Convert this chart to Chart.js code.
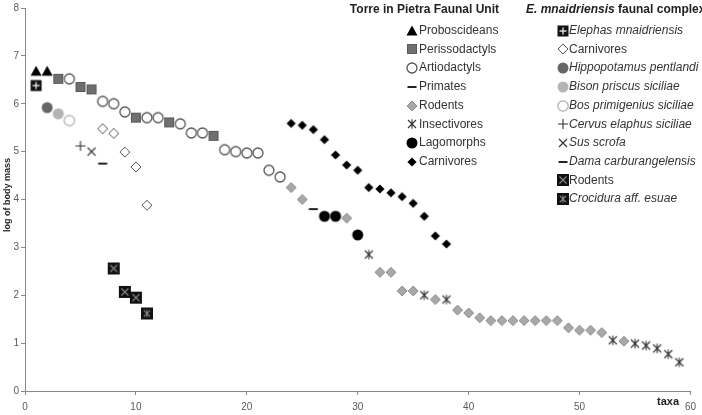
<!DOCTYPE html>
<html>
<head>
<meta charset="utf-8">
<script src="https://cdn.jsdelivr.net/npm/chart.js@4.4.1/dist/chart.umd.min.js"></script>
<style>
  html, body { margin: 0; padding: 0; background: #fff; }
  #wrap { width: 702px; height: 415px; position: relative; }
</style>
</head>
<body>
<div id="wrap"><canvas id="chart" width="702" height="415"></canvas></div>
<script>
// Torre in Pietra Faunal Unit
var proboscideansX = [1, 2];
var proboscideansY = [6.68, 6.68];
var perissodactylsX = [3, 5, 6, 10, 13, 17];
var perissodactylsY = [6.52, 6.35, 6.30, 5.71, 5.61, 5.33];
var artiodactylsX = [4, 7, 8, 9, 11, 12, 14, 15, 16, 18, 19, 20, 21, 22, 23];
var artiodactylsY = [6.52, 6.05, 6.0, 5.83, 5.71, 5.71, 5.58, 5.39, 5.39, 5.04, 5.0, 4.97, 4.97, 4.61, 4.47];
var primatesX = [26];
var primatesY = [3.80];
var rodentsX = [24, 25, 29, 32, 33, 34, 35, 37, 39, 40, 41, 42, 43, 44, 45, 46, 47, 48, 49, 50, 51, 52, 54];
var rodentsY = [4.25, 4.0, 3.61, 2.48, 2.48, 2.09, 2.09, 1.91, 1.69, 1.63, 1.53, 1.47, 1.47, 1.47, 1.47, 1.47, 1.47, 1.47, 1.32, 1.27, 1.27, 1.22, 1.04];
var insectivoresX = [31, 36, 38, 53, 55, 56, 57, 58, 59];
var insectivoresY = [2.85, 2.0, 1.91, 1.06, 0.99, 0.95, 0.89, 0.77, 0.60];
var lagomorphsX = [27, 28, 30];
var lagomorphsY = [3.65, 3.65, 3.26];
var carnivoresX = [24, 25, 26, 27, 28, 29, 30, 31, 32, 33, 34, 35, 36, 37, 38];
var carnivoresY = [5.59, 5.55, 5.46, 5.25, 4.93, 4.72, 4.61, 4.25, 4.22, 4.14, 4.06, 3.92, 3.65, 3.24, 3.07];

// E. mnaidriensis faunal complex
var elephasX = [1];
var elephasY = [6.38];
var emCarnivoresX = [7, 8, 9, 10, 11];
var emCarnivoresY = [5.48, 5.38, 4.99, 4.68, 3.88];
var hippoX = [2];
var hippoY = [5.92];
var bisonX = [3];
var bisonY = [5.79];
var bosX = [4];
var bosY = [5.65];
var cervusX = [5];
var cervusY = [5.12];
var susX = [6];
var susY = [5.0];
var damaX = [7];
var damaY = [4.75];
var emRodentsX = [8, 9, 10];
var emRodentsY = [2.56, 2.07, 1.95];
var crociduraX = [11];
var crociduraY = [1.62];

var xTicks = [0, 10, 20, 30, 40, 50, 60];
var yTicks = [0, 1, 2, 3, 4, 5, 6, 7, 8];

// marker images
function marker(size, draw) {
  var c = document.createElement("canvas");
  c.width = size;
  c.height = size;
  var ctx = c.getContext("2d");
  draw(ctx, size / 2);
  return c;
}
function star6(ctx, c, a, color, lw) {
  ctx.strokeStyle = color;
  ctx.lineWidth = lw;
  ctx.beginPath();
  ctx.moveTo(c - a, c - a); ctx.lineTo(c + a, c + a);
  ctx.moveTo(c + a, c - a); ctx.lineTo(c - a, c + a);
  ctx.moveTo(c, c - a * 1.2); ctx.lineTo(c, c + a * 1.2);
  ctx.stroke();
}
function diamond(ctx, c, r, fill, stroke) {
  ctx.beginPath();
  ctx.moveTo(c, c - r); ctx.lineTo(c + r, c); ctx.lineTo(c, c + r); ctx.lineTo(c - r, c);
  ctx.closePath();
  ctx.fillStyle = fill; ctx.fill();
  if (stroke) { ctx.strokeStyle = stroke; ctx.lineWidth = 1; ctx.stroke(); }
}
function circle(ctx, c, r, fill, stroke, lw) {
  ctx.beginPath();
  ctx.arc(c, c, r, 0, Math.PI * 2);
  ctx.fillStyle = fill; ctx.fill();
  if (stroke) { ctx.strokeStyle = stroke; ctx.lineWidth = lw || 1; ctx.stroke(); }
}

var m = {
  triangle: marker(14, function (ctx, c) {
    ctx.beginPath();
    ctx.moveTo(c, c - 5.5); ctx.lineTo(c + 5.5, c + 4.5); ctx.lineTo(c - 5.5, c + 4.5);
    ctx.closePath(); ctx.fillStyle = "#000"; ctx.fill();
  }),
  graySquare: marker(14, function (ctx, c) {
    ctx.fillStyle = "#6f6f6f"; ctx.fillRect(c - 5, c - 5, 10, 10);
    ctx.strokeStyle = "#5a5a5a"; ctx.lineWidth = 1; ctx.strokeRect(c - 4.5, c - 4.5, 9, 9);
  }),
  openCircle: marker(14, function (ctx, c) { circle(ctx, c, 5, "#fff", "#555", 1.3); }),
  dash: marker(14, function (ctx, c) { ctx.fillStyle = "#222"; ctx.fillRect(c - 4.5, c - 1, 9, 2); }),
  grayDiamond: marker(14, function (ctx, c) { diamond(ctx, c, 5, "#a8a8a8", "#8e8e8e"); }),
  star: marker(14, function (ctx, c) { star6(ctx, c, 4, "#333", 1.1); }),
  blackCircle: marker(14, function (ctx, c) { circle(ctx, c, 5.5, "#000"); }),
  blackDiamond: marker(14, function (ctx, c) { diamond(ctx, c, 4.6, "#000"); }),
  elephas: marker(14, function (ctx, c) {
    ctx.fillStyle = "#111"; ctx.fillRect(c - 5.5, c - 5.5, 11, 11);
    ctx.strokeStyle = "#ddd"; ctx.lineWidth = 1.4;
    ctx.beginPath(); ctx.moveTo(c - 3.5, c); ctx.lineTo(c + 3.5, c);
    ctx.moveTo(c, c - 3.5); ctx.lineTo(c, c + 3.5); ctx.stroke();
  }),
  openDiamond: marker(14, function (ctx, c) { diamond(ctx, c, 5, "#fff", "#555"); }),
  hippo: marker(14, function (ctx, c) { circle(ctx, c, 5.5, "#666"); }),
  bison: marker(14, function (ctx, c) { circle(ctx, c, 5.5, "#b4b4b4"); }),
  bos: marker(14, function (ctx, c) { circle(ctx, c, 5.2, "#fff", "#aaa", 1.2); }),
  plus: marker(14, function (ctx, c) {
    ctx.strokeStyle = "#333"; ctx.lineWidth = 1.1; ctx.beginPath();
    ctx.moveTo(c - 5, c); ctx.lineTo(c + 5, c); ctx.moveTo(c, c - 5); ctx.lineTo(c, c + 5); ctx.stroke();
  }),
  cross: marker(14, function (ctx, c) {
    ctx.strokeStyle = "#333"; ctx.lineWidth = 1.1; ctx.beginPath();
    ctx.moveTo(c - 4, c - 4); ctx.lineTo(c + 4, c + 4); ctx.moveTo(c + 4, c - 4); ctx.lineTo(c - 4, c + 4); ctx.stroke();
  }),
  boxCross: marker(14, function (ctx, c) {
    ctx.fillStyle = "#111"; ctx.fillRect(c - 6, c - 6, 12, 12);
    ctx.strokeStyle = "#888"; ctx.lineWidth = 1.1; ctx.beginPath();
    ctx.moveTo(c - 3.5, c - 3.5); ctx.lineTo(c + 3.5, c + 3.5); ctx.moveTo(c + 3.5, c - 3.5); ctx.lineTo(c - 3.5, c + 3.5); ctx.stroke();
  }),
  boxStar: marker(14, function (ctx, c) {
    ctx.fillStyle = "#111"; ctx.fillRect(c - 6, c - 6, 12, 12);
    star6(ctx, c, 3.2, "#888", 1.1);
  })
};

function pts(xs, ys) {
  return xs.map(function (x, i) { return { x: x, y: ys[i] }; });
}

var series = [
  { label: "Artiodactyls", x: artiodactylsX, y: artiodactylsY, style: m.openCircle },
  { label: "Perissodactyls", x: perissodactylsX, y: perissodactylsY, style: m.graySquare },
  { label: "Proboscideans", x: proboscideansX, y: proboscideansY, style: m.triangle },
  { label: "Primates", x: primatesX, y: primatesY, style: m.dash },
  { label: "Rodents", x: rodentsX, y: rodentsY, style: m.grayDiamond },
  { label: "Insectivores", x: insectivoresX, y: insectivoresY, style: m.star },
  { label: "Lagomorphs", x: lagomorphsX, y: lagomorphsY, style: m.blackCircle },
  { label: "Carnivores", x: carnivoresX, y: carnivoresY, style: m.blackDiamond },
  { label: "Elephas mnaidriensis", x: elephasX, y: elephasY, style: m.elephas },
  { label: "Carnivores (E.m.)", x: emCarnivoresX, y: emCarnivoresY, style: m.openDiamond },
  { label: "Hippopotamus pentlandi", x: hippoX, y: hippoY, style: m.hippo },
  { label: "Bison priscus siciliae", x: bisonX, y: bisonY, style: m.bison },
  { label: "Bos primigenius siciliae", x: bosX, y: bosY, style: m.bos },
  { label: "Cervus elaphus siciliae", x: cervusX, y: cervusY, style: m.plus },
  { label: "Sus scrofa", x: susX, y: susY, style: m.cross },
  { label: "Dama carburangelensis", x: damaX, y: damaY, style: m.dash },
  { label: "Rodents (E.m.)", x: emRodentsX, y: emRodentsY, style: m.boxCross },
  { label: "Crocidura aff. esuae", x: crociduraX, y: crociduraY, style: m.boxStar }
];

var leftLegend = [
  ["Proboscideans", m.triangle, false],
  ["Perissodactyls", m.graySquare, false],
  ["Artiodactyls", m.openCircle, false],
  ["Primates", m.dash, false],
  ["Rodents", m.grayDiamond, false],
  ["Insectivores", m.star, false],
  ["Lagomorphs", m.blackCircle, false],
  ["Carnivores", m.blackDiamond, false]
];
var rightLegend = [
  ["Elephas mnaidriensis", m.elephas, true],
  ["Carnivores", m.openDiamond, false],
  ["Hippopotamus pentlandi", m.hippo, true],
  ["Bison priscus siciliae", m.bison, true],
  ["Bos primigenius siciliae", m.bos, true],
  ["Cervus elaphus siciliae", m.plus, true],
  ["Sus scrofa", m.cross, true],
  ["Dama carburangelensis", m.dash, true],
  ["Rodents", m.boxCross, false],
  ["Crocidura aff. esuae", m.boxStar, true]
];

var FONT = "'Liberation Sans', Arial, sans-serif";

var legendPlugin = {
  id: "twoLegends",
  afterDraw: function (chart) {
    var ctx = chart.ctx;
    ctx.save();
    ctx.textBaseline = "middle";
    ctx.fillStyle = "#222";
    ctx.font = "bold 12px " + FONT;
    ctx.textAlign = "right";
    ctx.fillText("Torre in Pietra Faunal Unit", 499, 10);
    ctx.textAlign = "left";
    ctx.font = "italic bold 12px " + FONT;
    ctx.fillText("E. mnaidriensis", 526, 10);
    var w = ctx.measureText("E. mnaidriensis").width;
    ctx.font = "bold 12px " + FONT;
    ctx.fillText(" faunal complex", 526 + w, 10);

    function column(items, mx, tx) {
      items.forEach(function (it, i) {
        var y = 30.7 + i * 18.7;
        var img = it[1];
        ctx.drawImage(img, Math.round(mx - img.width / 2), Math.round(y - img.height / 2));
        ctx.fillStyle = "#333";
        ctx.font = (it[2] ? "italic " : "") + "12px " + FONT;
        ctx.fillText(it[0], tx, y);
      });
    }
    column(leftLegend, 412, 419);
    column(rightLegend, 563, 569);

    ctx.font = "bold 11px " + FONT;
    ctx.fillStyle = "#222";
    ctx.textAlign = "left";
    ctx.fillText("taxa", 657, 402);

    ctx.translate(8, 195);
    ctx.rotate(-Math.PI / 2);
    ctx.textAlign = "center";
    ctx.font = "bold 9px " + FONT;
    ctx.fillText("log of body mass", 0, 0);
    ctx.restore();
  }
};

new Chart(document.getElementById("chart"), {
  type: "scatter",
  data: {
    datasets: series.map(function (s) {
      return {
        label: s.label,
        data: pts(s.x, s.y),
        pointStyle: s.style,
        showLine: false
      };
    })
  },
  options: {
    responsive: false,
    animation: false,
    layout: { padding: { top: 8, right: 5, left: 0, bottom: 0 } },
    plugins: { legend: { display: false }, tooltip: { enabled: false } },
    scales: {
      x: {
        type: "linear",
        min: 0,
        max: 60,
        afterBuildTicks: function (s) { s.ticks = xTicks.map(function (v) { return { value: v }; }); },
        afterFit: function (s) { s.height = 24; },
        ticks: { color: "#595959", font: { family: FONT, size: 10 }, padding: 6 },
        grid: { drawOnChartArea: false, drawTicks: true, tickLength: 4, color: "#888" },
        border: { color: "#888", width: 1 }
      },
      y: {
        type: "linear",
        min: 0,
        max: 8,
        afterBuildTicks: function (s) { s.ticks = yTicks.map(function (v) { return { value: v }; }); },
        afterFit: function (s) { s.width = 25; },
        ticks: { color: "#595959", font: { family: FONT, size: 10 }, padding: 2 },
        grid: { drawOnChartArea: false, drawTicks: true, tickLength: 4, color: "#888" },
        border: { color: "#888", width: 1 }
      }
    }
  },
  plugins: [legendPlugin]
});
</script>
</body>
</html>
